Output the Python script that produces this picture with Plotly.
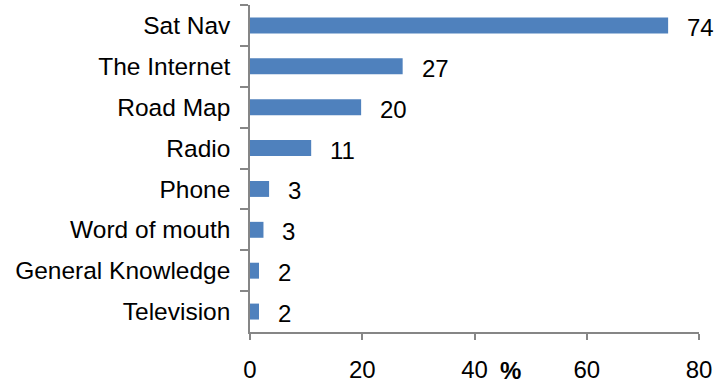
import plotly.graph_objects as go

categories = ["Sat Nav", "The Internet", "Road Map", "Radio", "Phone",
              "Word of mouth", "General Knowledge", "Television"]
values = [74.5, 27.2, 19.8, 10.9, 3.4, 2.4, 1.6, 1.6]
value_labels = ["74", "27", "20", "11", "3", "3", "2", "2"]
x_ticks = [0, 20, 40, 60, 80]

FONT = "Liberation Sans, Arial, sans-serif"
AXIS = "#868686"

fig = go.Figure(go.Bar(
    x=values, y=categories, orientation="h",
    marker=dict(color="#4F81BD", line=dict(width=0)),
    hoverinfo="skip",
))

for v, c, t in zip(values, categories, value_labels):
    fig.add_annotation(x=v, y=c, text=t, showarrow=False, xanchor="left",
                       xshift=17, yshift=-2, font=dict(size=24, color="black", family=FONT))

fig.add_annotation(xref="paper", yref="paper", x=(510 - 250) / 449, y=0, yanchor="top",
                   yshift=-23, text="<b>%</b>", showarrow=False,
                   font=dict(size=24, color="black", family=FONT))

fig.update_layout(
    width=721, height=383,
    margin=dict(l=250, r=22, t=5, b=51),
    paper_bgcolor="white", plot_bgcolor="white",
    bargap=0.61,
    showlegend=False,
    font=dict(family=FONT, size=24, color="black"),
    xaxis=dict(range=[0, 80], tickvals=x_ticks, ticks="outside", ticklen=6,
               tickcolor=AXIS, tickwidth=1.5, showline=True, linecolor=AXIS, linewidth=1.5,
               showgrid=False, zeroline=False, ticklabelstandoff=9, automargin=False,
               tickfont=dict(size=24, family=FONT)),
    yaxis=dict(type="category", categoryarray=categories, categoryorder="array",
               autorange="reversed", ticks="outside", tickson="boundaries", ticklen=8,
               tickcolor=AXIS, tickwidth=1.5, showline=True, linecolor=AXIS, linewidth=1.5,
               showgrid=False, zeroline=False, ticklabelstandoff=13, automargin=False,
               tickfont=dict(size=24.5, family=FONT)),
)

fig.write_html("out.html")
